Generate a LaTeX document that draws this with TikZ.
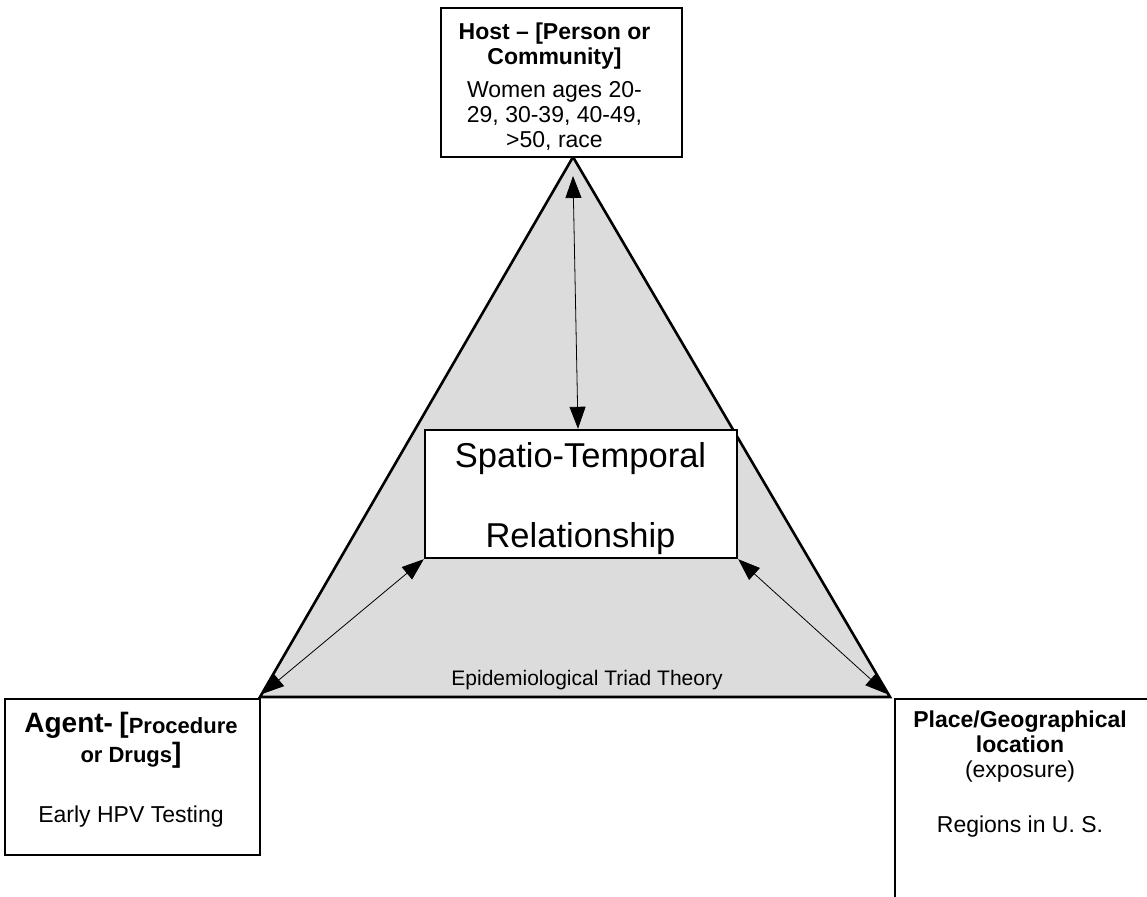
\documentclass[tikz,border=0pt]{standalone}
\usepackage{fontspec}
\setmainfont{Liberation Sans}
\usetikzlibrary{arrows.meta}
\definecolor{triadgrey}{RGB}{220,220,220}

\begin{document}
\begin{tikzpicture}[x=1pt,y=-1pt,
        box/.style={draw, line width=2.4pt, fill=white, inner sep=0pt},
        words/.style={align=center, anchor=north, inner sep=0pt},
        link/.style={{Triangle[length=22pt,width=16pt]}-{Triangle[length=22pt,width=16pt]}, line width=0.8pt},
        edge/.style={line width=2.6pt, line join=miter}]
            % page frame
            \clip (0,0) rectangle (1147,896);

            % corners of the triad
            \coordinate (apex) at (573,157);
            \coordinate (left) at (260,697);
            \coordinate (right) at (890,697);
            % draw the triangle
            \filldraw[edge, fill=triadgrey] (apex) -- (left) -- (right) -- cycle;
            % text on the base
            \node[font=\fontsize{21}{25}\selectfont, anchor=base] (triad) at (587,685) {Epidemiological Triad Theory};

            % host box at the top
            \node[box, minimum width=241, minimum height=149] (host) at (561.5,82.5) {};
            \node[words, font=\fontsize{23}{25}\selectfont] (hostText) at (554.5,22.5)
                {\textbf{Host – [Person or}\\\textbf{Community]}\\[8pt]Women ages 20-\\29, 30-39, 40-49,\\>50, race};

            % spatio-temporal box in the middle
            \node[box, minimum width=312, minimum height=128] (spatio) at (581,494) {};
            \node[words, font=\fontsize{34.5}{80}\selectfont] (spatioText) at (580.5,442)
                {Spatio-Temporal\\Relationship};

            % agent box at the bottom left
            \node[box, minimum width=255, minimum height=156] (agent) at (132.5,777) {};
            \node[words, font=\fontsize{23}{30}\selectfont] (agentText) at (131,712.5)
                {\textbf{{\fontsize{28}{30}\selectfont Agent-} {\fontsize{28}{30}\selectfont[}\fontsize{22}{30}\selectfont Procedure}\\
                 \textbf{\fontsize{22}{30}\selectfont or Drugs{\fontsize{28}{30}\selectfont]}}\\[29pt]Early HPV Testing};

            % place box at the bottom right, running off the page
            \node[box, anchor=north west, minimum width=300, minimum height=260] (place) at (894,698) {};
            \node[words, font=\fontsize{23}{25}\selectfont] (placeText) at (1020,710.5)
                {\textbf{Place/Geographical}\\\textbf{location}\\(exposure)\\[30pt]Regions in U. S.};

            % ends of the arrows near the corners
            \coordinate (hostTip) at (573,176);
            \coordinate (agentTip) at (262,694);
            \coordinate (placeTip) at (887,694);
            % draw the arrows
            \draw[link] (hostTip) -- ([xshift=-3pt]spatio.north);
            \draw[link] (agentTip) -- (spatio.south west);
            \draw[link] (spatio.south east) -- (placeTip);
\end{tikzpicture}
\end{document}
